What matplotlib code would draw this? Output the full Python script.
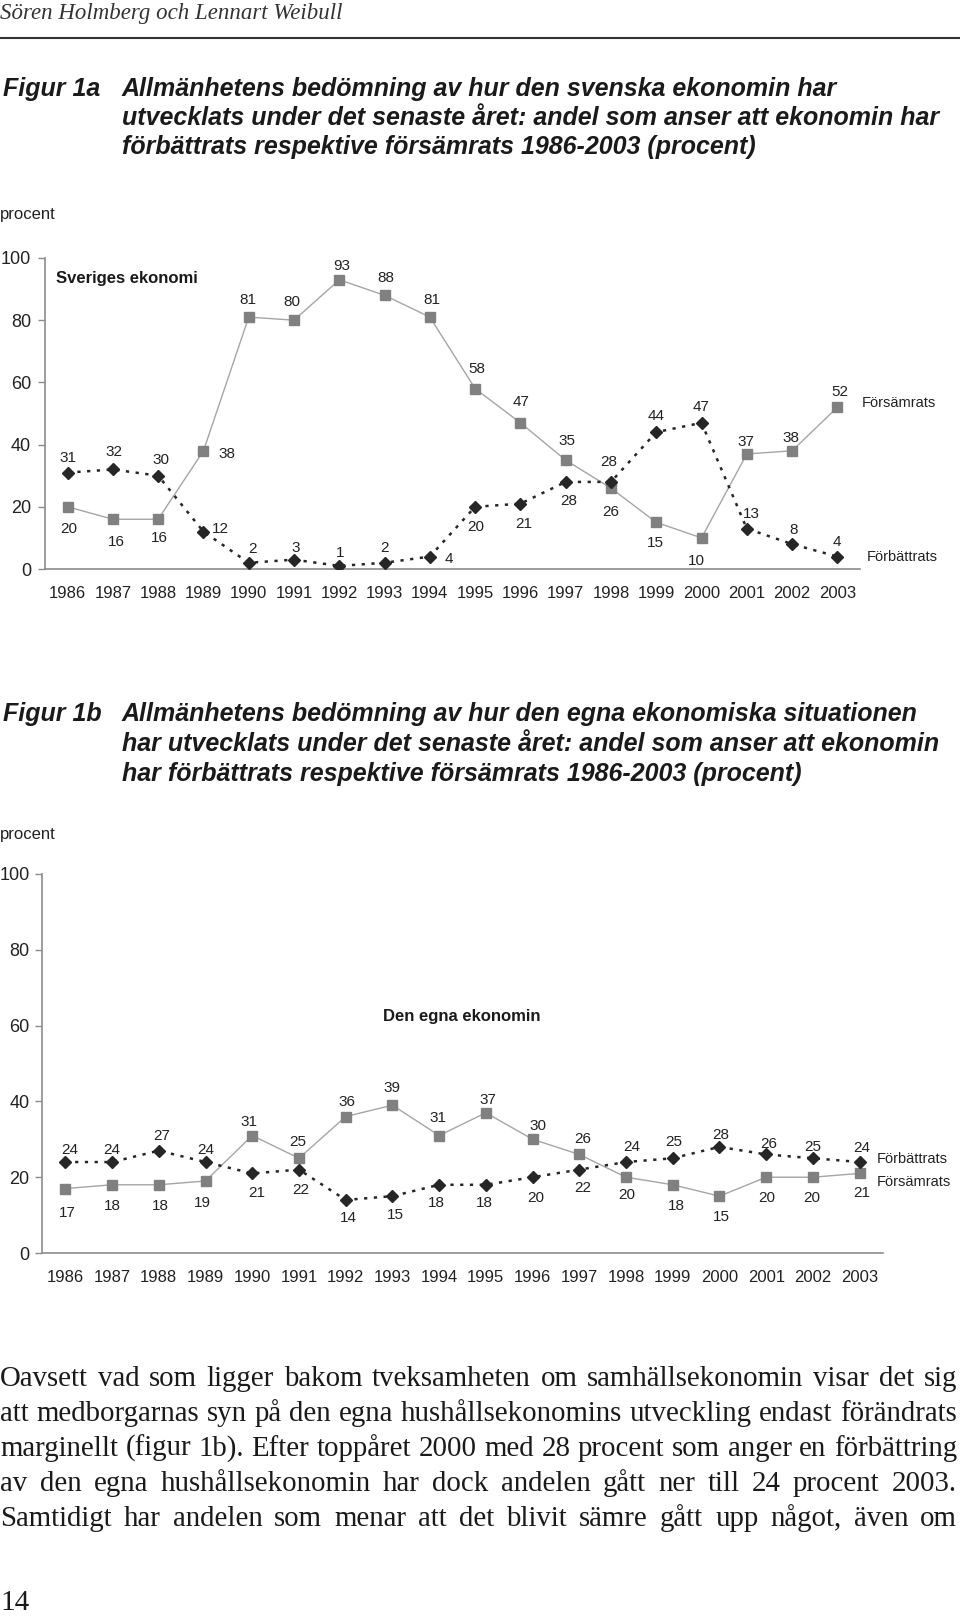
# Figur 1a / 1b: svenska ekonomin och den egna ekonomin 1986-2003
import matplotlib
matplotlib.use('Agg')
import matplotlib.pyplot as plt

plt.rcParams['font.family'] = ['Liberation Sans', 'DejaVu Sans']

W, H = 960, 1618

years = list(range(1986, 2004))

# figur 1a, Sveriges ekonomi
a_forsamrats = [20, 16, 16, 38, 81, 80, 93, 88, 81, 58, 47, 35, 26, 15, 10, 37, 38, 52]
a_forbattrats = [31, 32, 30, 12, 2, 3, 1, 2, 4, 20, 21, 28, 28, 44, 47, 13, 8, 4]

# figur 1b, den egna ekonomin
b_forbattrats = [24, 24, 27, 24, 21, 22, 14, 15, 18, 18, 20, 22, 24, 25, 28, 26, 25, 24]
b_forsamrats = [17, 18, 18, 19, 31, 25, 36, 39, 31, 37, 30, 26, 20, 18, 15, 20, 20, 21]

yticks = [0, 20, 40, 60, 80, 100]

# label offsets in pixels (dx, dy downwards)
a_sq_off = [(1, 22), (3, 23), (1, 19), (23, 3), (-1, -17), (-2, -18), (2, -14), (1, -17),
            (2, -17), (2, -20), (1, -21), (1, -19), (0, 24), (-1, 21), (-5, 23), (-1, -12),
            (-1, -13), (2, -15)]
a_di_off = [(0, -15), (1, -17), (3, -16), (17, -3), (4, -14), (2, -12), (1, -13), (0, -15),
            (19, 2), (1, 20), (3, 20), (3, 19), (-2, -20), (0, -16), (0, -16), (5, -15),
            (2, -14), (0, -15)]
b_di_off = [(4, -12), (0, -12), (3, -15), (0, -12), (4, 20), (2, 20), (3, 18), (3, 19),
            (-3, 18), (-1, 18), (3, 21), (3, 18), (6, -15), (1, -16), (1, -12), (3, -10),
            (0, -11), (2, -14)]
b_sq_off = [(2, 24), (0, 21), (2, 21), (-3, 22), (-3, -14), (-1, -16), (1, -15), (0, -17),
            (-1, -18), (2, -13), (5, -13), (3, -15), (1, 18), (4, 21), (2, 21), (1, 21),
            (-1, 21), (2, 20)]

fig = plt.figure(figsize=(W / 100, H / 100), dpi=100)


def fx(x):
    return x / W


def fy(y):
    return 1 - y / H


def panel(rect, worse, better, worse_off, better_off, ytickpad):
    ax = fig.add_axes(rect)
    ax.plot(years, worse, color='#a5a5a5', lw=1.0, marker='s', ms=7.5,
            mfc='#808080', mec='#808080', zorder=2)
    ax.plot(years, better, color='#262626', lw=1.8, ls=(0, (1.3, 2.6)),
            marker='D', ms=6, mfc='#262626', mec='#262626', zorder=3)
    for x, v, (dx, dy) in zip(years, worse, worse_off):
        ax.annotate(str(v), (x, v), xytext=(dx * 0.72, -dy * 0.72),
                    textcoords='offset points', ha='center', va='center',
                    fontsize=11, color='#222222')
    for x, v, (dx, dy) in zip(years, better, better_off):
        ax.annotate(str(v), (x, v), xytext=(dx * 0.72, -dy * 0.72),
                    textcoords='offset points', ha='center', va='center',
                    fontsize=11, color='#222222')
    ax.set_xlim(1985.5, 2003.5)
    ax.set_ylim(0, 100)
    ax.set_xticks(years)
    ax.set_xticklabels([str(y) for y in years])
    ax.set_yticks(yticks)
    for s in ['top', 'right']:
        ax.spines[s].set_visible(False)
    for s in ['left', 'bottom']:
        ax.spines[s].set_color('#8c8c8c')
        ax.spines[s].set_linewidth(1.2)
    ax.tick_params(axis='x', length=0, pad=12, labelsize=12, labelcolor='#222222')
    ax.tick_params(axis='y', length=5, width=1, color='#8c8c8c', pad=ytickpad,
                   labelsize=13, labelcolor='#222222')
    ax.patch.set_alpha(0)
    return ax


ax1 = panel([45 / W, 1 - 569 / H, (860 - 45) / W, (569 - 258) / H],
            a_forsamrats, a_forbattrats, a_sq_off, a_di_off, 5)
ax2 = panel([42 / W, 1 - 1253 / H, (883 - 42) / W, (1253 - 874) / H],
            b_forsamrats, b_forbattrats, b_sq_off, b_di_off, 4)

# header
fig.text(fx(0), fy(14), 'Sören Holmberg och Lennart Weibull', family='Liberation Serif',
         style='italic', fontsize=16.5, color='#333333', va='center')
fig.add_artist(plt.Line2D([0, 1], [fy(38), fy(38)], color='#333333', lw=1.5))

# titles
tkw = dict(fontsize=18, fontweight='bold', style='italic', color='#1a1a1a', va='center')
fig.text(fx(3), fy(89), 'Figur 1a', **tkw)
for y, s in zip([89, 118, 147], ['Allmänhetens bedömning av hur den svenska ekonomin har',
                                 'utvecklats under det senaste året: andel som anser att ekonomin har',
                                 'förbättrats respektive försämrats 1986-2003 (procent)']):
    fig.text(fx(122), fy(y), s, **tkw)
fig.text(fx(3), fy(714), 'Figur 1b', **tkw)
for y, s in zip([714, 744, 774], ['Allmänhetens bedömning av hur den egna ekonomiska situationen',
                                  'har utvecklats under det senaste året: andel som anser att ekonomin',
                                  'har förbättrats respektive försämrats 1986-2003 (procent)']):
    fig.text(fx(122), fy(y), s, **tkw)

# chart texts
lkw = dict(fontsize=10.5, color='#222222', va='center')
fig.text(fx(0), fy(215), 'procent', fontsize=12, color='#222222', va='center')
fig.text(fx(0), fy(834), 'procent', fontsize=12, color='#222222', va='center')
fig.text(fx(56), fy(279), 'Sveriges ekonomi', fontsize=12, fontweight='bold', color='#1a1a1a', va='center')
fig.text(fx(383), fy(1017), 'Den egna ekonomin', fontsize=12, fontweight='bold', color='#1a1a1a', va='center')
fig.text(fx(862), fy(403), 'Försämrats', **lkw)
fig.text(fx(867), fy(557), 'Förbättrats', **lkw)
fig.text(fx(877), fy(1159), 'Förbättrats', **lkw)
fig.text(fx(877), fy(1182), 'Försämrats', **lkw)

# body text, justified
body = ['Oavsett vad som ligger bakom tveksamheten om samhällsekonomin visar det sig',
        'att medborgarnas syn på den egna hushållsekonomins utveckling endast förändrats',
        'marginellt (figur 1b). Efter toppåret 2000 med 28 procent som anger en förbättring',
        'av den egna hushållsekonomin har dock andelen gått ner till 24 procent 2003.',
        'Samtidigt har andelen som menar att det blivit sämre gått upp något, även om']
body_y = [1378, 1413, 1448, 1483, 1518]
x0, x1 = 0, 957
r = fig.canvas.get_renderer()
probe = [fig.text(0, 0, s, family='Liberation Serif', fontsize=10) for s in body]
size = min(10 * (x1 - x0) / t.get_window_extent(r).width for t in probe)
for t in probe:
    t.remove()
for line, y in zip(body, body_y):
    words = line.split()
    texts = [fig.text(0, fy(y + 8), w, family='Liberation Serif', fontsize=size,
                      color='#1a1a1a', va='baseline') for w in words]
    widths = [t.get_window_extent(r).width for t in texts]
    gap = (x1 - x0 - sum(widths)) / (len(words) - 1)
    x = x0
    for t, w in zip(texts, widths):
        t.set_x(fx(x))
        x += w + gap

fig.text(fx(0), fy(1603), '14', family='Liberation Serif', fontsize=21, color='#1a1a1a', va='center')

fig.savefig('out.png', dpi=100)
